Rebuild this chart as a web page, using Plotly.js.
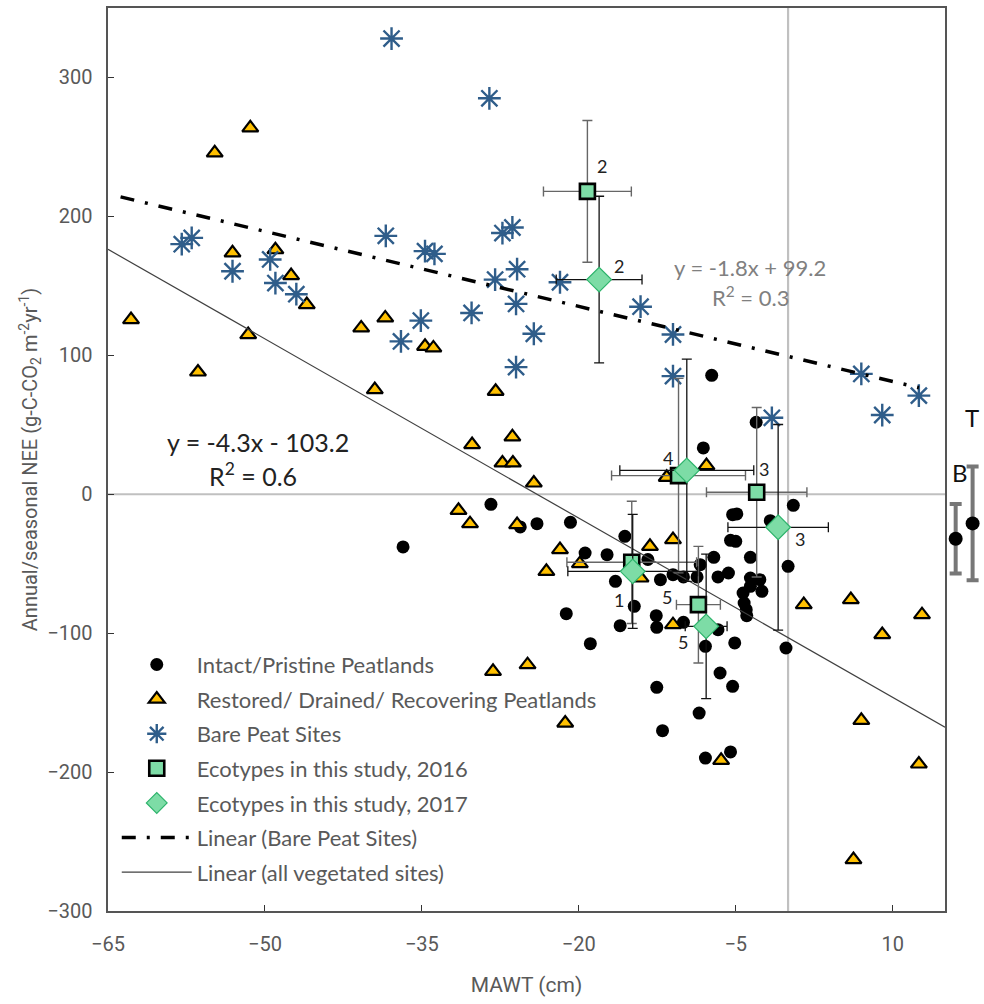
<!DOCTYPE html>
<html>
<head>
<meta charset="utf-8">
<script src="https://cdn.plot.ly/plotly-3.0.1.min.js"></script>
<style>html,body{margin:0;padding:0;background:#fff;}</style>
</head>
<body>
<div id="chart" style="width:984px;height:1004px;"></div>
<script>
// ---------- data ----------
const intactX = [-28.4,-25.6,-24.0,-36.8,-7.3,-3.05,-8.1,0.5,-5.3,-4.9,-1.7,-20.8,-5.5,-5.0,-15.6,-19.4,-17.3,-13.4,-8.4,-3.6,-7.1,0.0,-5.7,-6.7,-11.0,-10.0,-8.7,-12.2,-16.5,-3.6,-2.7,-3.6,-4.3,-2.5,-4.2,-4.0,-3.95,-14.7,-21.2,-16.05,-12.6,-12.55,-10.0,-18.9,-7.9,-5.1,-0.2,-6.7,-6.5,-5.3,-12.55,-8.5,-12.0,-7.9,-5.5];
const intactY = [-7.3,-23.5,-21.2,-37.9,85.6,51.8,33.3,-8.0,-14.7,-14.2,-19.0,-20.2,-33.2,-33.9,-30.3,-42.3,-43.5,-47.0,-50.7,-45.4,-45.4,-51.9,-56.7,-59.5,-57.9,-59.5,-59.5,-61.5,-62.7,-60.3,-61.5,-66.3,-71.1,-69.9,-78.3,-83.1,-87.4,-80.7,-86.0,-94.6,-87.4,-95.8,-92.2,-107.6,-109.5,-107.0,-110.7,-97.5,-128.7,-138.3,-139.0,-157.5,-170.2,-189.9,-185.5];

const restoredX = [-51.4,-54.8,-53.1,-49.0,-47.5,-46.0,-62.8,-51.6,-40.8,-38.5,-34.7,-33.9,-56.4,-39.5,-27.95,-30.2,-26.35,-27.3,-26.3,-24.3,-31.5,-30.4,-25.9,-23.1,-28.2,-24.9,-7.8,-11.6,-11.0,-21.8,-19.9,-13.2,-14.1,-11.0,1.5,6.0,12.8,9.0,-21.3,-6.4,7.0,12.5,6.25];
const restoredY = [263.7,245.7,173.7,176.0,157.4,136.5,125.7,114.9,119.7,126.9,106.5,105.3,88.0,75.3,74.1,35.7,41.3,22.5,22.5,8.1,-11.6,-21.2,-21.9,-55.5,-127.5,-122.7,20.6,12.2,-32.7,-39.9,-50.0,-37.5,-60.3,-93.9,-79.5,-75.9,-86.7,-101.0,-164.7,-191.6,-162.8,-194.2,-263.0];

const bareX = [-37.9,-28.55,-57.95,-57.0,-53.1,-49.5,-49.0,-47.0,-38.45,-34.7,-33.8,-27.3,-26.35,-28.0,-25.9,-26.0,-30.25,-35.1,-37.0,-24.3,-26.0,-21.8,-14.1,-11.0,-11.0,7.0,12.5,9.0,-1.55];
const bareY = [328,285,180,184.5,160.5,169,152,144,186,175,173,188,192,154.5,162,137,130.5,125,110,115.5,91.5,152.6,135,115,85,86.6,71,57,55];

const eco2016Labels = ['2','4','3','1','5'];
const eco2016X = [-19.18,-10.47,-3.0,-14.94,-8.57];
const eco2016Y = [218,13.4,1.4,-49,-79.5];
const eco2016XErr = [4.2,6.4,4.8,6.2,2.1];
const eco2016YErr = [51,70,61,44,42];

const eco2017Labels = ['2','','3','','5'];
const eco2017X = [-18.06,-9.68,-0.95,-14.85,-7.83];
const eco2017Y = [154.5,17.2,-23.8,-55.5,-95.1];
const eco2017XErr = [4.1,6.4,4.8,6.2,2.0];
const eco2017YErr = [60,80,74,41,52];

// trendlines: [slope, intercept] and x extent
const bareTrend = [-1.8, 99.2];
const bareTrendX = [-63.8, 12.5];
const vegTrend = [-4.3, -103.2];
const vegTrendX = [-65, 15];

// reference sites drawn beside the plot
const refLabels = ['B','T'];
const refY = [-32, -21];
const refErr = [25, 41];

const xTicks = [-65,-50,-35,-20,-5,10];
const yTicks = [-300,-200,-100,0,100,200,300];

// ---------- helpers ----------
const line = (c, xs) => xs.map(x => c[0]*x + c[1]);
const gray = '#595959';
const tickFont = {family:'Liberation Sans Narrow, Roboto, sans-serif', size:20, color:gray};

const traces = [
  {type:'scatter', mode:'markers', name:'Intact/Pristine Peatlands', legendgroup:'a', legendrank:1,
   x:intactX, y:intactY, marker:{symbol:'circle', size:13, color:'#000'}},
  {type:'scatter', mode:'markers', name:'Restored/ Drained/ Recovering Peatlands', legendgroup:'b', legendrank:2,
   x:restoredX, y:restoredY, marker:{symbol:'triangle-up', size:14, color:'#FFC000', line:{color:'#000', width:2.2}}},
  {type:'scatter', mode:'markers', name:'Bare Peat Sites', legendgroup:'c', legendrank:3,
   x:bareX, y:bareY, marker:{symbol:'asterisk-open', size:19, color:'#2F5D8A', line:{color:'#2F5D8A', width:2.4}}},
  {type:'scatter', mode:'lines', name:'Linear (Bare Peat Sites)', legendgroup:'f', legendrank:6,
   x:bareTrendX, y:line(bareTrend, bareTrendX), line:{color:'#000', width:3.5, dash:'14px,11px,3px,11px'}},
  {type:'scatter', mode:'lines', name:'Linear (all vegetated sites)', legendgroup:'g', legendrank:7,
   x:vegTrendX, y:line(vegTrend, vegTrendX), line:{color:'#404040', width:1.2}},
  {type:'scatter', mode:'markers', name:'Ecotypes in this study, 2016', legendgroup:'d', legendrank:4,
   x:eco2016X, y:eco2016Y,
   error_x:{type:'data', array:eco2016XErr, color:'#666', thickness:1.4, width:5},
   error_y:{type:'data', array:eco2016YErr, color:'#666', thickness:1.4, width:5},
   marker:{symbol:'square', size:15, color:'#7DDCA6', line:{color:'#000', width:2.6}}},
  {type:'scatter', mode:'markers', name:'Ecotypes in this study, 2017', legendgroup:'e', legendrank:5,
   x:eco2017X, y:eco2017Y,
   error_x:{type:'data', array:eco2017XErr, color:'#111', thickness:1.3, width:5},
   error_y:{type:'data', array:eco2017YErr, color:'#111', thickness:1.3, width:5},
   marker:{symbol:'diamond', size:19, color:'#7DDCA6', line:{color:'#2DB36B', width:1.2}}},
  {type:'scatter', mode:'markers', showlegend:false, xaxis:'x2', yaxis:'y',
   x:refLabels, y:refY, cliponaxis:false,
   error_y:{type:'data', array:refErr, color:'#777', thickness:4, width:6},
   marker:{symbol:'circle', size:14, color:'#000'}}
];

// ecotype number labels
const numAnn = [];
const off16 = [[15,-25],[-11,-18],[7,-23],[-13,38],[-31,-8]];
const off17 = [[20,-14],[0,0],[22,12],[0,0],[-23,16]];
const numFont = {family:'Lato, sans-serif', size:18, color:'#222'};
eco2016Labels.forEach((t,i)=>{ if(t) numAnn.push({x:eco2016X[i], y:eco2016Y[i], text:t, showarrow:false, xshift:off16[i][0], yshift:-off16[i][1], font:numFont}); });
eco2017Labels.forEach((t,i)=>{ if(t) numAnn.push({x:eco2017X[i], y:eco2017Y[i], text:t, showarrow:false, xshift:off17[i][0], yshift:-off17[i][1], font:numFont}); });

const eqFont = {family:'Lato, sans-serif', size:25, color:'#222'};
const eqFont2 = {family:'Lato, sans-serif', size:22, color:'#808080'};

const layout = {
  width:984, height:1004,
  margin:{l:108, r:0, t:8, b:93},
  paper_bgcolor:'#fff', plot_bgcolor:'#fff',
  showlegend:true,
  legend:{x:0.01, y:0.296, xanchor:'left', yanchor:'top', bgcolor:'rgba(0,0,0,0)',
          font:{family:'Lato, sans-serif', size:22, color:gray},
          itemwidth:70, traceorder:'grouped', tracegroupgap:3},
  xaxis:{domain:[0, 0.9555], range:[-65,15], tickvals:xTicks, ticks:'inside', ticklen:6, tickcolor:'#333',
         showgrid:false, zeroline:false, showline:true, linecolor:'#555', linewidth:1.6, mirror:true,
         tickfont:tickFont, ticklabelstandoff:14,
         title:{text:'MAWT (cm)', font:{family:'Liberation Sans Narrow, Roboto, sans-serif', size:21, color:gray}, standoff:23}},
  xaxis2:{domain:[0.958,1], range:[-0.5,1.674], visible:false, anchor:'y', type:'category', categoryarray:refLabels},
  yaxis:{range:[-300,350], tickvals:yTicks, ticks:'inside', ticklen:6, tickcolor:'#333',
         showgrid:false, zeroline:false, showline:true, linecolor:'#555', linewidth:1.6, mirror:true,
         tickfont:tickFont, ticklabelstandoff:10,
         title:{text:'Annual/seasonal NEE (g-C-CO<sub>2</sub> m<sup>-2</sup>yr<sup>-1</sup>)', font:{family:'Liberation Sans Narrow, Roboto, sans-serif', size:20, color:gray}, standoff:4}},
  shapes:[
    {type:'line', xref:'x', yref:'y', x0:0, x1:0, y0:-300, y1:350, line:{color:'#C0C0C0', width:2.2}, layer:'below'},
    {type:'line', xref:'x', yref:'y', x0:-65, x1:15, y0:0, y1:0, line:{color:'#C0C0C0', width:2.2}, layer:'below'}
  ],
  annotations:[
    {x:-50.66, y:37.9, text:'y = -4.3x - 103.2', showarrow:false, font:eqFont},
    {x:-51.1, y:14.1, text:'R<sup>2</sup> = 0.6', showarrow:false, font:eqFont},
    {x:-3.6, y:163, text:'y = -1.8x + 99.2', showarrow:false, font:eqFont2},
    {x:-3.6, y:142, text:'R<sup>2</sup> = 0.3', showarrow:false, font:eqFont2},
    {xref:'x2', yref:'y', x:'B', y:15.6, xshift:4, text:'B', showarrow:false, font:{family:'Lato, sans-serif', size:24, color:'#111'}},
    {xref:'x2', yref:'y', x:'T', y:55, xshift:-1, text:'T', showarrow:false, font:{family:'Lato, sans-serif', size:24, color:'#111'}}
  ].concat(numAnn)
};

Plotly.newPlot('chart', traces, layout, {displayModeBar:false, staticPlot:true});
</script>
</body>
</html>
